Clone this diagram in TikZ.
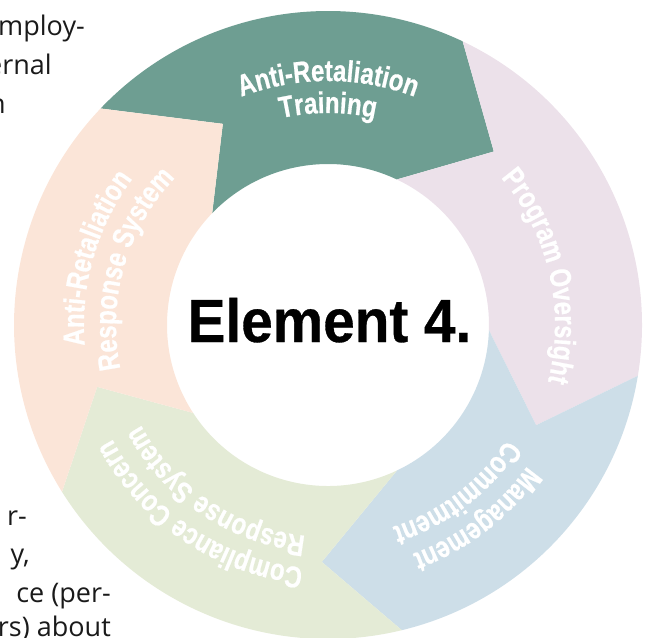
\documentclass[tikz,border=0pt]{standalone}
\usepackage{fontspec}
\setmainfont{Liberation Sans}
\newfontfamily\segfont{Liberation Sans}[UprightFont={* Bold}, FakeStretch=0.8, FakeBold=0.6]
\newfontfamily\elemfont{Liberation Sans}[UprightFont={* Bold}, FakeStretch=0.93, FakeBold=0.5]
\newfontfamily\bodyfont{Open Sans}
\usetikzlibrary{decorations.text}
\definecolor{cgreen}{HTML}{6E9E92}
\definecolor{cpink}{HTML}{ECE1EA}
\definecolor{cblue}{HTML}{CDDEE8}
\definecolor{clgreen}{HTML}{E4EBD6}
\definecolor{cpeach}{HTML}{FBE5D8}
\definecolor{bodyink}{HTML}{1A1A1A}
\newcommand{\segstyle}{\segfont\fontsize{30}{30}\selectfont\color{white}}
\tikzset{
  body/.style={font=\bodyfont\fontsize{27}{39}\selectfont, text=bodyink, inner sep=0pt, anchor=base east},
  segtext/.style={decorate, decoration={text along path, text align=center, text={|\segstyle|#1}}}
}
\begin{document}
\begin{tikzpicture}[x=1pt,y=1pt]
\useasboundingbox (0,-637) rectangle (650,0);
\begin{scope}[shift={(328,-325)}]
% Anti-Retaliation Training (green)
\fill[cgreen] (136.4:314) arc[start angle=136.4,end angle=64.6,radius=314] -- (46.3:240) -- (64.7:161)
  arc[start angle=64.7,end angle=136,radius=161] -- (117.6:227) -- cycle;
% Program Oversight (pink)
\fill[cpink] (64.6:314) arc[start angle=64.6,end angle=-9.3,radius=314] -- (-25.7:231) -- (-1.8:161)
  arc[start angle=-1.8,end angle=64.7,radius=161] -- (46.3:240) -- cycle;
% Management Commitment (blue)
\fill[cblue] (-9.3:314) arc[start angle=-9.3,end angle=-76.4,radius=314] -- (-91.5:237) -- (-64.6:161)
  arc[start angle=-64.6,end angle=-1.8,radius=161] -- (-25.7:231) -- cycle;
% Compliance Concern Response System (light green)
\fill[clgreen] (-76.4:314) arc[start angle=-76.4,end angle=-147.9,radius=314] -- (-165:239) -- (-146.9:161)
  arc[start angle=-146.9,end angle=-64.6,radius=161] -- (-91.5:237) -- cycle;
% Anti-Retaliation Response System (peach)
\fill[cpeach] (-147.9:314) arc[start angle=-147.9,end angle=-223.6,radius=314] -- (117.6:227) -- (136:161)
  arc[start angle=-224,end angle=-146.9,radius=161] -- (-165:239) -- cycle;

% labels along arcs
\path[segtext={Anti-Retaliation}] (135:244) arc[start angle=135,end angle=45,radius=244];
\path[segtext={Training}] (135:212) arc[start angle=135,end angle=45,radius=212];
\path[segtext={Program Oversight}] (58:227) arc[start angle=58,end angle=-32,radius=227];
\path[segtext={Management}] (-7.5:244) arc[start angle=-7.5,end angle=-97.5,radius=244];
\path[segtext={Commitment}] (-7.5:212) arc[start angle=-7.5,end angle=-97.5,radius=212];
\path[segtext={Compliance Concern}] (-79:244) arc[start angle=-79,end angle=-169,radius=244];
\path[segtext={Response System}] (-79:212) arc[start angle=-79,end angle=-169,radius=212];
\path[segtext={Anti-Retaliation}] (209:244) arc[start angle=209,end angle=119,radius=244];
\path[segtext={Response System}] (209:212) arc[start angle=209,end angle=119,radius=212];
\end{scope}

\node[font=\elemfont\fontsize{61}{61}\selectfont, inner sep=0pt, anchor=base] (elem) at (329.5,-342) {Element 4.};

\node[body] (t1) at (85,-35) {mploy-};
\node[body] (t2) at (52,-74) {ernal};
\node[body] (t3) at (6,-113) {n};
\node[body] (b1) at (27,-525) {r-};
\node[body] (b2) at (30,-563) {y,};
\node[body] (b3) at (111,-602) {ce (per-};
\node[body] (b4) at (111,-636) {rs) about};
\end{tikzpicture}
\end{document}
